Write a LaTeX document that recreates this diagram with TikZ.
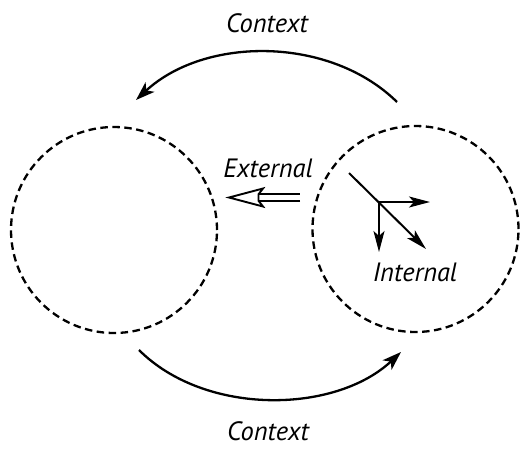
\documentclass[tikz,border=0pt]{standalone}
\usepackage{fontspec}
\setmainfont{PT Sans}
\usetikzlibrary{arrows.meta}
\begin{document}
\begin{tikzpicture}[x=1pt,y=-1pt,
  lbl/.style={font=\fontsize{26.5}{30}\selectfont\itshape, inner sep=0pt},
  dashcirc/.style={circle, draw, line width=2.3pt, dash pattern=on 7.5pt off 4.5pt, minimum size=206pt, inner sep=0pt},
  ctx/.style={line width=2.3pt, -{Stealth[length=19pt,width=13pt,inset=5pt]}},
  intarr/.style={line width=2pt, -{Stealth[length=21pt,width=11pt,inset=5pt]}}]
\useasboundingbox (0,0) rectangle (520,448);
\node[dashcirc] (L) at (114,230) {};
\node[dashcirc] (R) at (415.5,229) {};
% context arcs
\coordinate (t1) at (397,102);
\coordinate (t2) at (136,100);
\draw[ctx] (t1) .. controls (330,36) and (205,36) .. (t2);
\coordinate (b1) at (139,350);
\coordinate (b2) at (401,352);
\draw[ctx] (b1) .. controls (205,416) and (335,414) .. (b2);
\node[lbl] (ctop) at (267,23) {Context};
\node[lbl] (cbot) at (268,431) {Context};
% external arrow
\coordinate (e1) at (300,197.5);
\coordinate (e2) at (258.5,197.5);
\coordinate (etip) at (229,197.5);
\draw[line width=1.9pt, double=white, double distance=4.6pt] (e1) -- (e2);
\draw[line width=1.9pt, line join=miter, fill=white] (etip) -- (263,188.5) -- (258.5,194.3) -- (258.5,200.7) -- (263,206.5) -- cycle;
\node[lbl] (ext) at (268,168) {External};
% internal arrows
\coordinate (d0) at (349,173);
\coordinate (j) at (379,202);
\coordinate (d1) at (426,249);
\coordinate (rt) at (430,202);
\coordinate (dn) at (379,252);
\draw[intarr] (d0) -- (d1);
\draw[intarr] (j) -- (rt);
\draw[intarr] (j) -- (dn);
\node[lbl] (int) at (415,272) {Internal};
\end{tikzpicture}
\end{document}
